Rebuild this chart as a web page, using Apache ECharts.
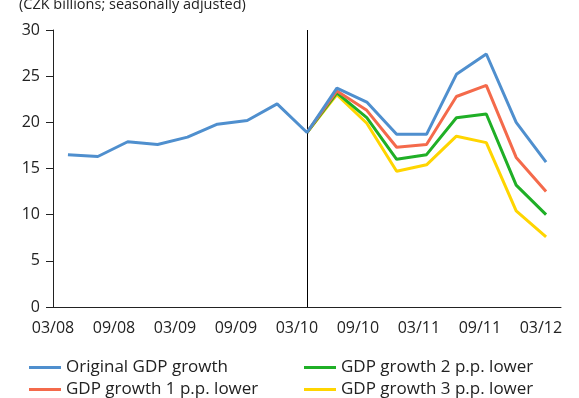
<!DOCTYPE html>
<html>
<head>
<meta charset="utf-8">
<script src="https://cdn.jsdelivr.net/npm/echarts@6/dist/echarts.min.js"></script>
<style>
html,body{margin:0;padding:0;background:#fff;}
#c{width:579px;height:398px;}
</style>
</head>
<body>
<div id="c"></div>
<script>
var quarters = ['03/08','06/08','09/08','12/08','03/09','06/09','09/09','12/09','03/10','06/10','09/10','12/10','03/11','06/11','09/11','12/11','03/12'];
var tickLabels = ['03/08','09/08','03/09','09/09','03/10','09/10','03/11','09/11','03/12'];
var original = [16.5,16.3,17.9,17.6,18.4,19.8,20.2,22.0,18.9,23.7,22.2,18.7,18.7,25.2,27.4,20.0,15.7];
var lower1 = [null,null,null,null,null,null,null,null,18.9,23.4,21.3,17.3,17.6,22.8,24.0,16.2,12.5];
var lower2 = [null,null,null,null,null,null,null,null,18.9,23.2,20.5,16.0,16.5,20.5,20.9,13.2,10.0];
var lower3 = [null,null,null,null,null,null,null,null,18.9,23.0,19.9,14.7,15.4,18.5,17.8,10.4,7.6];
var names = ['Original GDP growth','GDP growth 1 p.p. lower','GDP growth 2 p.p. lower','GDP growth 3 p.p. lower'];
var colors = ['#4F8FCE','#F46A4B','#1FAF26','#FFD500'];

var FONT = 'Open Sans';
var chart = echarts.init(document.getElementById('c'), null, {renderer:'canvas'});
function mkSeries(i, data, z){
  return {
    name: names[i], type:'line', data:data, xAxisIndex:0, yAxisIndex:0,
    showSymbol:false, symbol:'none', smooth:false, z:z,
    lineStyle:{color:colors[i], width:3}, itemStyle:{color:colors[i]},
    animation:false
  };
}
var s0 = mkSeries(0, original, 6);
s0.markLine = {
  silent:true, symbol:['none','none'], label:{show:false},
  lineStyle:{color:'#000', width:1, type:'solid'},
  data:[{xAxis:8}], animation:false
};
var legendText = {fontFamily:FONT, fontSize:17, color:'#222'};
function mkLegend(i, left, top){
  return {left:left, top:top, orient:'horizontal', itemWidth:32, itemHeight:3, icon:'rect',
    data:[names[i]], textStyle:legendText, selectedMode:false, padding:0};
}
chart.setOption({
  animation:false,
  title:{text:'(CZK billions; seasonally adjusted)', left:14, top:-8,
    textStyle:{fontFamily:FONT, fontSize:14.5, fontWeight:'normal', color:'#222'}},
  grid:{left:53, right:18, top:30, bottom:91, containLabel:false},
  legend:[
    mkLegend(0, 29, 359),
    mkLegend(1, 29, 381),
    mkLegend(2, 304, 359),
    mkLegend(3, 304, 381)
  ],
  xAxis:[
    {type:'category', data:quarters, boundaryGap:true,
     axisLine:{show:true, lineStyle:{color:'#222', width:1}},
     axisTick:{show:false}, axisLabel:{show:false}, splitLine:{show:false}},
    {type:'value', min:0, max:8.33, interval:1, position:'bottom',
     axisLine:{show:false}, axisTick:{show:false}, splitLine:{show:false},
     axisLabel:{show:true, margin:13, fontFamily:FONT, fontSize:16, color:'#222',
       showMinLabel:true, showMaxLabel:true,
       formatter:function(v){ var k=Math.round(v); return Math.abs(v-k)<1e-6 && tickLabels[k]!==undefined ? tickLabels[k] : ''; }}}
  ],
  yAxis:{type:'value', min:0, max:30, interval:5,
    axisLine:{show:true, lineStyle:{color:'#222', width:1}},
    axisTick:{show:true, length:7, lineStyle:{color:'#222'}},
    splitLine:{show:false},
    axisLabel:{margin:13, fontFamily:FONT, fontSize:16, color:'#222'}},
  series:[
    s0,
    mkSeries(1, lower1, 5),
    mkSeries(2, lower2, 4),
    mkSeries(3, lower3, 3)
  ]
});
</script>
</body>
</html>
